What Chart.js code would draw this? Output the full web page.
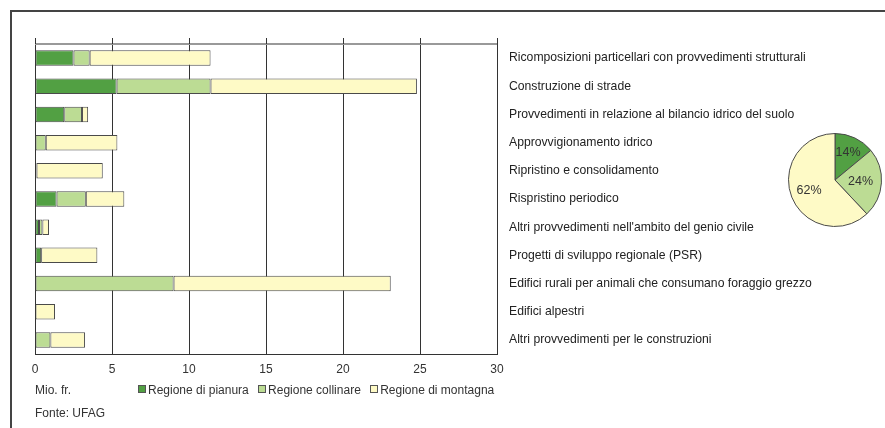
<!DOCTYPE html>
<html lang="it">
<head>
<meta charset="UTF-8">
<title>Miglioramenti strutturali</title>
<script src="https://cdn.jsdelivr.net/npm/chart.js@4.4.0/dist/chart.umd.min.js"></script>
<style>
  body { margin: 0; background: #fff; font-family: "Liberation Sans", Arial, sans-serif; color: #333; }
  #wrap { position: relative; width: 885px; height: 428px; overflow: hidden; }
  #frame { position: absolute; left: 10px; top: 10px; width: 880px; height: 430px;
           border-left: 2px solid #444; border-top: 2px solid #444; }
  #bars { position: absolute; left: 0; top: 0; }
  #pie { position: absolute; left: 785px; top: 130px; }
  .txt { position: absolute; font-size: 12px; line-height: 14px; white-space: nowrap; }
  .sq { display: inline-block; width: 6px; height: 6px; border: 1px solid #555; margin-right: 2px; vertical-align: 1px; }
</style>
</head>
<body>
<div id="wrap">
  <div id="frame"></div>
  <canvas id="bars" width="885" height="428"></canvas>
  <canvas id="pie" width="100" height="100"></canvas>
  <div class="txt" style="left:35px; top:383px;">Mio. fr.</div>
  <div class="txt" style="left:138px; top:383px;">
    <span class="sq" style="background:#52a043"></span>Regione di pianura
    <span class="sq" style="background:#bcdc94; margin-left:6px"></span>Regione collinare
    <span class="sq" style="background:#fefac6; margin-left:6px"></span>Regione di montagna
  </div>
  <div class="txt" style="left:35px; top:406px;">Fonte: UFAG</div>
</div>

<script>
    // Dati (Mio. fr.)
    const categorie = [
        "Ricomposizioni particellari con provvedimenti strutturali",
        "Construzione di strade",
        "Provvedimenti in relazione al bilancio idrico del suolo",
        "Approvvigionamento idrico",
        "Ripristino e consolidamento",
        "Rispristino periodico",
        "Altri provvedimenti nell'ambito del genio civile",
        "Progetti di sviluppo regionale (PSR)",
        "Edifici rurali per animali che consumano foraggio grezzo",
        "Edifici alpestri",
        "Altri provvedimenti per le construzioni"
    ];
    const pianura   = [2.5, 5.3, 1.9, 0, 0.05, 1.4, 0.26, 0.4, 0, 0, 0];
    const collinare = [1.05, 6.1, 1.15, 0.7, 0.05, 1.9, 0.22, 0, 9.0, 0, 1.0];
    const montagna  = [7.85, 13.4, 0.4, 4.65, 4.3, 2.5, 0.43, 3.65, 14.1, 1.3, 2.25];
    const xTicks = [0, 5, 10, 15, 20, 25, 30];

    const regioni = ["Regione di pianura", "Regione collinare", "Regione di montagna"];
    const quote = [14, 24, 62];

    const colori = ["#52a043", "#bcdc94", "#fefac6"];
    const bordo = "#4a4a4a";
    const font = "'Liberation Sans', Arial, sans-serif";

    // linea superiore grigia + piccoli tick sopra
    const topAxis = {
        id: "topAxis",
        afterDatasetsDraw(chart) {
            const { ctx, chartArea } = chart;
            const x = chart.scales.x;
            ctx.save();
            ctx.strokeStyle = "#999";
            ctx.lineWidth = 2;
            ctx.beginPath();
            ctx.moveTo(chartArea.left, chartArea.top);
            ctx.lineTo(chartArea.right, chartArea.top);
            ctx.stroke();
            ctx.strokeStyle = "#333";
            ctx.lineWidth = 1;
            xTicks.forEach(v => {
                const px = Math.round(x.getPixelForValue(v)) + 0.5;
                ctx.beginPath();
                ctx.moveTo(px, chartArea.top - 6);
                ctx.lineTo(px, chartArea.top);
                ctx.stroke();
            });
            ctx.restore();
        }
    };

    new Chart(document.getElementById("bars"), {
        type: "bar",
        data: {
            labels: categorie,
            datasets: [pianura, collinare, montagna].map((d, i) => ({
                label: regioni[i],
                data: d,
                backgroundColor: colori[i],
                borderColor: bordo,
                borderWidth: 1,
                borderSkipped: false,
                barPercentage: 0.55,
                categoryPercentage: 1
            }))
        },
        options: {
            indexAxis: "y",
            responsive: false,
            animation: false,
            layout: { padding: { left: 35, top: 44, right: 0, bottom: 0 } },
            plugins: { legend: { display: false }, tooltip: { enabled: false } },
            scales: {
                x: {
                    stacked: true,
                    min: 0, max: 30,
                    afterBuildTicks: s => { s.ticks = xTicks.map(v => ({ value: v })); },
                    afterFit: s => { s.height = 74; },
                    grid: { color: "#333", lineWidth: 1, drawTicks: false },
                    border: { color: "#333", width: 1 },
                    ticks: { padding: 8, color: "#333", font: { family: font, size: 12 } }
                },
                y: {
                    stacked: true,
                    position: "right",
                    afterFit: s => { s.width = 388; },
                    grid: { display: false, drawTicks: false },
                    border: { color: "#333", width: 1 },
                    ticks: { padding: 12, color: "#222", font: { family: font, size: 12.2 } }
                }
            }
        },
        plugins: [topAxis]
    });

    // etichette percentuali nella torta
    const pieLabels = {
        id: "pieLabels",
        afterDatasetsDraw(chart) {
            const { ctx } = chart;
            const arcs = chart.getDatasetMeta(0).data;
            const fattori = [0.66, 0.55, 0.6];
            ctx.save();
            ctx.fillStyle = "#333";
            ctx.font = "12.5px " + font;
            ctx.textAlign = "center";
            ctx.textBaseline = "middle";
            arcs.forEach((a, i) => {
                const mid = (a.startAngle + a.endAngle) / 2;
                const r = a.outerRadius * fattori[i];
                ctx.fillText(quote[i] + "%", a.x + Math.cos(mid) * r, a.y + Math.sin(mid) * r);
            });
            ctx.restore();
        }
    };

    new Chart(document.getElementById("pie"), {
        type: "pie",
        data: {
            labels: regioni,
            datasets: [{
                data: quote,
                backgroundColor: colori,
                borderColor: bordo,
                borderWidth: 1
            }]
        },
        options: {
            responsive: false,
            animation: false,
            layout: { padding: 3 },
            plugins: { legend: { display: false }, tooltip: { enabled: false } }
        },
        plugins: [pieLabels]
    });
</script>
</body>
</html>
